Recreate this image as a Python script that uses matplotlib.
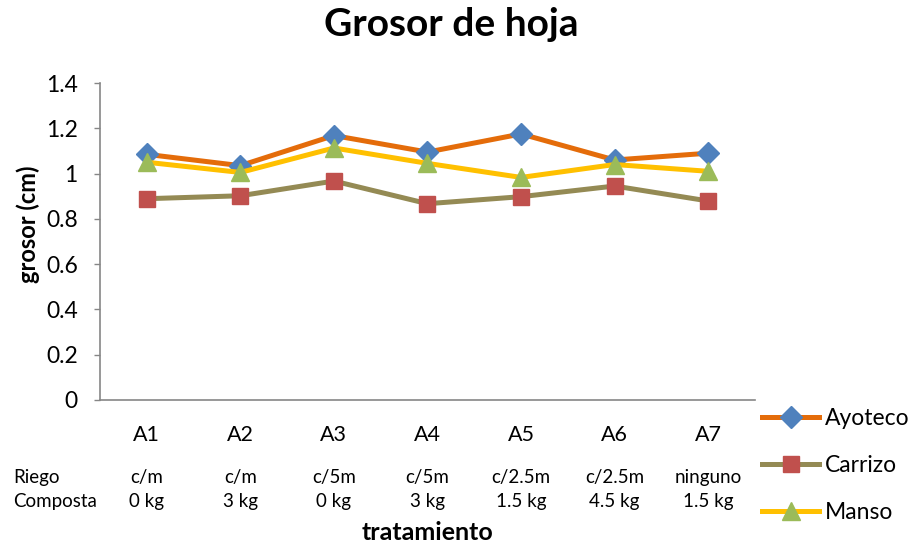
"""Grosor de hoja por tratamiento (line chart)."""

import matplotlib

matplotlib.use("Agg")
import matplotlib.pyplot as plt
from matplotlib.transforms import blended_transform_factory

plt.rcParams["font.family"] = ["Lato", "DejaVu Sans"]

treatments = ["A1", "A2", "A3", "A4", "A5", "A6", "A7"]
riego = ["c/m", "c/m", "c/5m", "c/5m", "c/2.5m", "c/2.5m", "ninguno"]
composta = ["0 kg", "3 kg", "0 kg", "3 kg", "1.5 kg", "4.5 kg", "1.5 kg"]

ayoteco = [1.085, 1.035, 1.168, 1.095, 1.175, 1.060, 1.090]
carrizo = [0.889, 0.902, 0.967, 0.867, 0.898, 0.945, 0.879]
manso = [1.050, 1.005, 1.113, 1.045, 0.983, 1.040, 1.010]

y_ticks = [0, 0.2, 0.4, 0.6, 0.8, 1, 1.2, 1.4]
y_tick_labels = ["0", "0.2", "0.4", "0.6", "0.8", "1", "1.2", "1.4"]

SERIES = [
    ("Ayoteco", ayoteco, "#E46C0A", "#4F81BD", "D", 11),
    ("Carrizo", carrizo, "#948A54", "#C0504D", "s", 12),
    ("Manso", manso, "#FFC000", "#9BBB59", "^", 13),
]

AXIS_GRAY = "#868686"

fig = plt.figure(figsize=(9.12, 5.48), dpi=100)
ax = fig.add_axes([100 / 912, 1 - 400 / 548, 655 / 912, 317 / 548])

x = list(range(len(treatments)))
handles = []
for name, values, line_color, marker_color, marker, size in SERIES:
    (line,) = ax.plot(
        x,
        values,
        color=line_color,
        linewidth=3.6,
        marker=marker,
        markersize=size,
        markerfacecolor=marker_color,
        markeredgecolor=marker_color,
        label=name,
        zorder=3,
    )
    handles.append(line)

ax.set_xlim(-0.5, len(treatments) - 0.5)
ax.set_ylim(0, 1.4)
ax.set_yticks(y_ticks)
ax.set_yticklabels(y_tick_labels, fontsize=16.5)
ax.set_xticks(x)
ax.set_xticklabels(treatments, fontsize=15.5)

ax.tick_params(axis="y", direction="out", length=4, width=1, color=AXIS_GRAY, pad=12)
ax.tick_params(axis="x", length=0, pad=18)

for side in ("top", "right"):
    ax.spines[side].set_visible(False)
for side in ("left", "bottom"):
    ax.spines[side].set_color(AXIS_GRAY)
    ax.spines[side].set_linewidth(1.2)

# second and third rows of the category axis
row_transform = blended_transform_factory(ax.transData, fig.transFigure)
for xi, (r, c) in enumerate(zip(riego, composta)):
    ax.text(xi, 1 - 478 / 548, r, transform=row_transform,
            ha="center", va="center", fontsize=13.5)
    ax.text(xi, 1 - 501 / 548, c, transform=row_transform,
            ha="center", va="center", fontsize=13.5)
fig.text(13 / 912, 1 - 478 / 548, "Riego", ha="left", va="center", fontsize=13.5)
fig.text(13 / 912, 1 - 501 / 548, "Composta", ha="left", va="center", fontsize=13.5)

fig.text(451 / 912, 1 - 25 / 548, "Grosor de hoja", ha="center", va="center",
         fontsize=28, fontweight="bold")
fig.text(428 / 912, 1 - 533 / 548, "tratamiento", ha="center", va="center",
         fontsize=18, fontweight="bold")
fig.text(28 / 912, 1 - 224 / 548, "grosor (cm)", ha="center", va="center",
         rotation=90, fontsize=17, fontweight="bold")

fig.legend(
    handles=handles,
    loc="center left",
    bbox_to_anchor=(762 / 912, 1 - 465.5 / 548),
    frameon=False,
    fontsize=16.5,
    handlelength=2.5,
    handletextpad=0.25,
    labelspacing=1.15,
    borderpad=0,
    borderaxespad=0,
)

fig.savefig("out.png", dpi=100)
